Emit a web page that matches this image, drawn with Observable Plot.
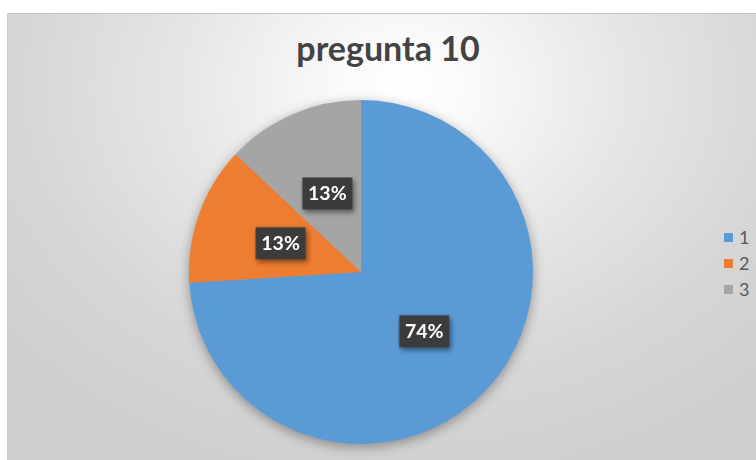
<!DOCTYPE html>
<html>
<head>
<meta charset="utf-8">
<script src="https://cdn.jsdelivr.net/npm/d3@7"></script>
<script src="https://cdn.jsdelivr.net/npm/@observablehq/plot@0.6"></script>
<style>
  html, body { margin: 0; padding: 0; background: #ffffff; }
  #page { position: relative; width: 756px; height: 460px; overflow: hidden; background: #ffffff; }
  #area {
    position: absolute; left: 7px; top: 13px; width: 760px; height: 460px;
    border-top: 1px solid #c6c6c6; border-left: 1px solid #cfcfcf;
    background: radial-gradient(ellipse 70% 90% at 52% 16%, #ffffff 0%, #fafafa 12%, #e6e6e6 42%, #d6d6d6 72%, #cecece 100%);
  }
  #title {
    position: absolute; left: 0; top: 27px; width: 776px; text-align: center;
    font-family: Lato, "Open Sans", sans-serif; font-weight: bold; font-size: 34px; color: #434343;
  }
  #chart { position: absolute; left: 0; top: 0; }
  #chart svg { background: transparent; overflow: visible; }
  #chart g[aria-label="dot"] { filter: drop-shadow(2px 3px 2.5px rgba(0,0,0,0.45)); }
  #legend { position: absolute; left: 724px; top: 224px; font-family: Lato, "Open Sans", sans-serif !important; font-size: 18px !important; color: #595959 !important; }
  #legend .lg-swatches, #legend .lg-swatch, #legend .lg-swatch * { font-family: Lato, "Open Sans", sans-serif !important; font-size: 18px !important; color: #595959 !important; }
  #legend .lg-swatches { margin: 0; min-height: 0; }
  #legend .lg-swatch { display: flex; align-items: center; height: 26px; margin: 0; padding: 0; }
  #legend .lg-swatch svg { margin-right: 6px; }
</style>
</head>
<body>
<div id="page">
  <div id="area"></div>
  <div id="title">pregunta 10</div>
  <div id="chart"></div>
  <div id="legend"></div>
</div>
<script>
const categories = ["1", "2", "3"];
const values = [74, 13, 13];
const labels = ["74%", "13%", "13%"];
const palette = ["#5b9bd5", "#ed7d31", "#a5a5a5"];

const colorScale = Plot.scale({color: {type: "ordinal", domain: categories, range: palette}});

const arcs = d3.pie().sort(null).value(d => d)(values);
const slices = arcs.map((a, i) => {
  const mid = (a.startAngle + a.endAngle) / 2;
  return {cat: categories[i], label: labels[i], start: a.startAngle, end: a.endAngle,
          lx: 0.5 * Math.sin(mid), ly: 0.5 * Math.cos(mid)};
});

const boxSymbol = {draw(context) { context.rect(-25, -16, 50, 32); }};

function pieMark(index, scales) {
  const x = scales && scales.x ? scales.x : d3.scaleLinear([-1, 1], [189, 533]);
  const y = scales && scales.y ? scales.y : d3.scaleLinear([-1, 1], [444, 100]);
  const cx = x(0), cy = y(0), r = x(1) - x(0);
  const arc = d3.arc().innerRadius(0).outerRadius(r);
  const g = d3.create("svg:g").style("filter", "drop-shadow(0px 3px 6px rgba(0,0,0,0.35))");
  g.selectAll("path").data(slices).join("path")
    .attr("transform", `translate(${cx},${cy})`)
    .attr("d", d => arc({startAngle: d.start, endAngle: d.end}))
    .attr("fill", d => colorScale.apply(d.cat));
  return g.node();
}

const chart = Plot.plot({
  width: 756,
  height: 460,
  x: {domain: [-1, 1], range: [189, 533], axis: null},
  y: {domain: [-1, 1], range: [444, 100], axis: null},
  style: {background: "transparent"},
  marks: [
    pieMark,
    Plot.dot(slices, {x: "lx", y: "ly", symbol: boxSymbol, r: 10, fill: "#3b3b3b", stroke: "none"}),
    Plot.text(slices, {x: "lx", y: "ly", text: "label", fill: "white", fontSize: 19.5,
                       fontWeight: "bold", fontFamily: "Lato, 'Open Sans', sans-serif"})
  ]
});
document.getElementById("chart").appendChild(chart);

const legend = Plot.legend({
  color: {type: "ordinal", domain: categories, range: palette},
  legend: "swatches", columns: 1, swatchSize: 9, className: "lg"
});
document.getElementById("legend").appendChild(legend);
</script>
</body>
</html>
